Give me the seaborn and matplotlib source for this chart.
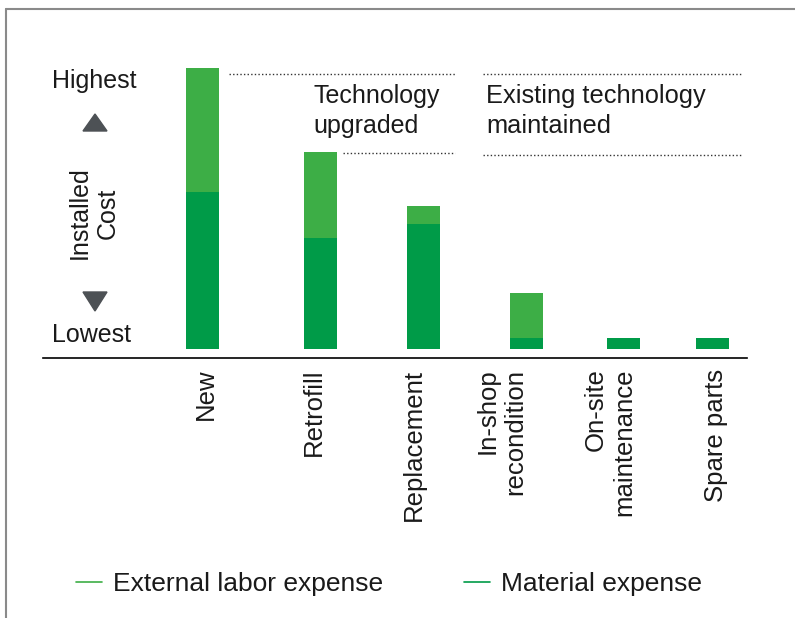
import numpy as np
import matplotlib
matplotlib.use("Agg")
import matplotlib.pyplot as plt
from matplotlib.lines import Line2D
from matplotlib.patches import Polygon
import seaborn as sns

# ----------------------------------------------------------------------------------
# Data (relative installed cost, New = 100)
# ----------------------------------------------------------------------------------
categories = ["New", "Retrofill", "Replacement", "In-shop\nrecondition",
              "On-site\nmaintenance", "Spare parts"]
material_expense = [56, 39.5, 44.5, 4, 4, 4]
labor_expense = [44, 30.5, 6.5, 16, 0, 0]

# layout: bar slots and tick label spots along the axis (axis units)
bar_slots = [1.595, 2.775, 3.805, 4.835, 5.805, 6.695]
label_slots = [1.63, 2.71, 3.71, 4.585, 5.67, 6.73]

LIGHT = "#3DAE46"
DARK = "#009B48"
INK = "#1a1a1a"

W, H = 795, 618


def fx(x):
    return x / W


def fy(y):
    return 1 - y / H


sns.set_style("white")
plt.rcParams["font.family"] = ["Liberation Sans", "DejaVu Sans"]

fig = plt.figure(figsize=(W / 100, H / 100), dpi=100)
ax = fig.add_axes([fx(43), fy(357.5), fx(747) - fx(43), fy(30) - fy(357.5)])

totals = list(np.add(material_expense, labor_expense))
bar_w = 0.33 / np.min(np.diff(bar_slots))

sns.barplot(x=bar_slots, y=totals, native_scale=True, orient="x", color=LIGHT,
            saturation=1, width=bar_w, errorbar=None, ax=ax, linewidth=0)
sns.barplot(x=bar_slots, y=material_expense, native_scale=True, orient="x", color=DARK,
            saturation=1, width=bar_w, errorbar=None, ax=ax, linewidth=0)

ax.set_xlim(0, 7.04)
ax.set_ylim(-3.0, 113.5)
ax.set_yticks([])
ax.set_xticks(label_slots)
ax.set_xticklabels(categories, rotation=90, fontsize=18.5, color=INK)
for t in ax.get_xticklabels():
    t.set_multialignment("right")
ax.tick_params(axis="x", length=0, pad=8)
ax.set_xlabel("")
ax.set_ylabel("")
for side in ["top", "left", "right"]:
    ax.spines[side].set_visible(False)
ax.spines["bottom"].set_color("black")
ax.spines["bottom"].set_linewidth(1.2)

# dotted group brackets
dot = dict(color="#333333", linewidth=1.0, linestyle=(0, (1, 1.6)))
ax.hlines(97.9, 1.86, 4.12, **dot)
ax.hlines(69.75, 3.00, 4.12, **dot)
ax.hlines(97.9, 4.40, 6.99, **dot)
ax.hlines(69.0, 4.40, 6.99, **dot)
ax.text(2.70, 94.2, "Technology\nupgraded", fontsize=18, color=INK, va="top", ha="left",
        linespacing=1.32)
ax.text(4.43, 94.2, "Existing technology\nmaintained", fontsize=18.3, color=INK,
        va="top", ha="left", linespacing=1.32)

# left scale annotation
fig.text(fx(52), fy(88), "Highest", fontsize=18, color=INK, va="baseline", ha="left")
fig.text(fx(52), fy(342), "Lowest", fontsize=18, color=INK, va="baseline", ha="left")
fig.text(fx(94), fy(213), "Installed\nCost", fontsize=18, color=INK, rotation=90,
         va="center", ha="center", multialignment="center")
tri = "#4D5155"
fig.add_artist(Polygon([[fx(83), fy(131)], [fx(107), fy(131)], [fx(95), fy(114)]],
                       closed=True, color=tri, transform=fig.transFigure))
fig.add_artist(Polygon([[fx(83), fy(292)], [fx(107), fy(292)], [fx(95), fy(311)]],
                       closed=True, color=tri, transform=fig.transFigure))

# outer frame
frame = dict(color="#8a8a8a", linewidth=1.5, transform=fig.transFigure)
fig.add_artist(Line2D([fx(6), 1.0], [fy(9), fy(9)], **frame))
fig.add_artist(Line2D([fx(6), fx(6)], [fy(9), 0.0], **frame))

# legend
leg_kw = dict(loc="center left", frameon=False, fontsize=19, handlelength=0.98,
              handletextpad=0.42, borderpad=0, borderaxespad=0)
for label, col, x0 in [("External labor expense", LIGHT, 76), ("Material expense", DARK, 464)]:
    h = Line2D([0], [0], color=col, linewidth=1.2)
    lg = fig.legend(handles=[h], labels=[label], bbox_to_anchor=(fx(x0), fy(584)), **leg_kw)
    for t in lg.get_texts():
        t.set_color(INK)

fig.savefig("out.png", dpi=100)
